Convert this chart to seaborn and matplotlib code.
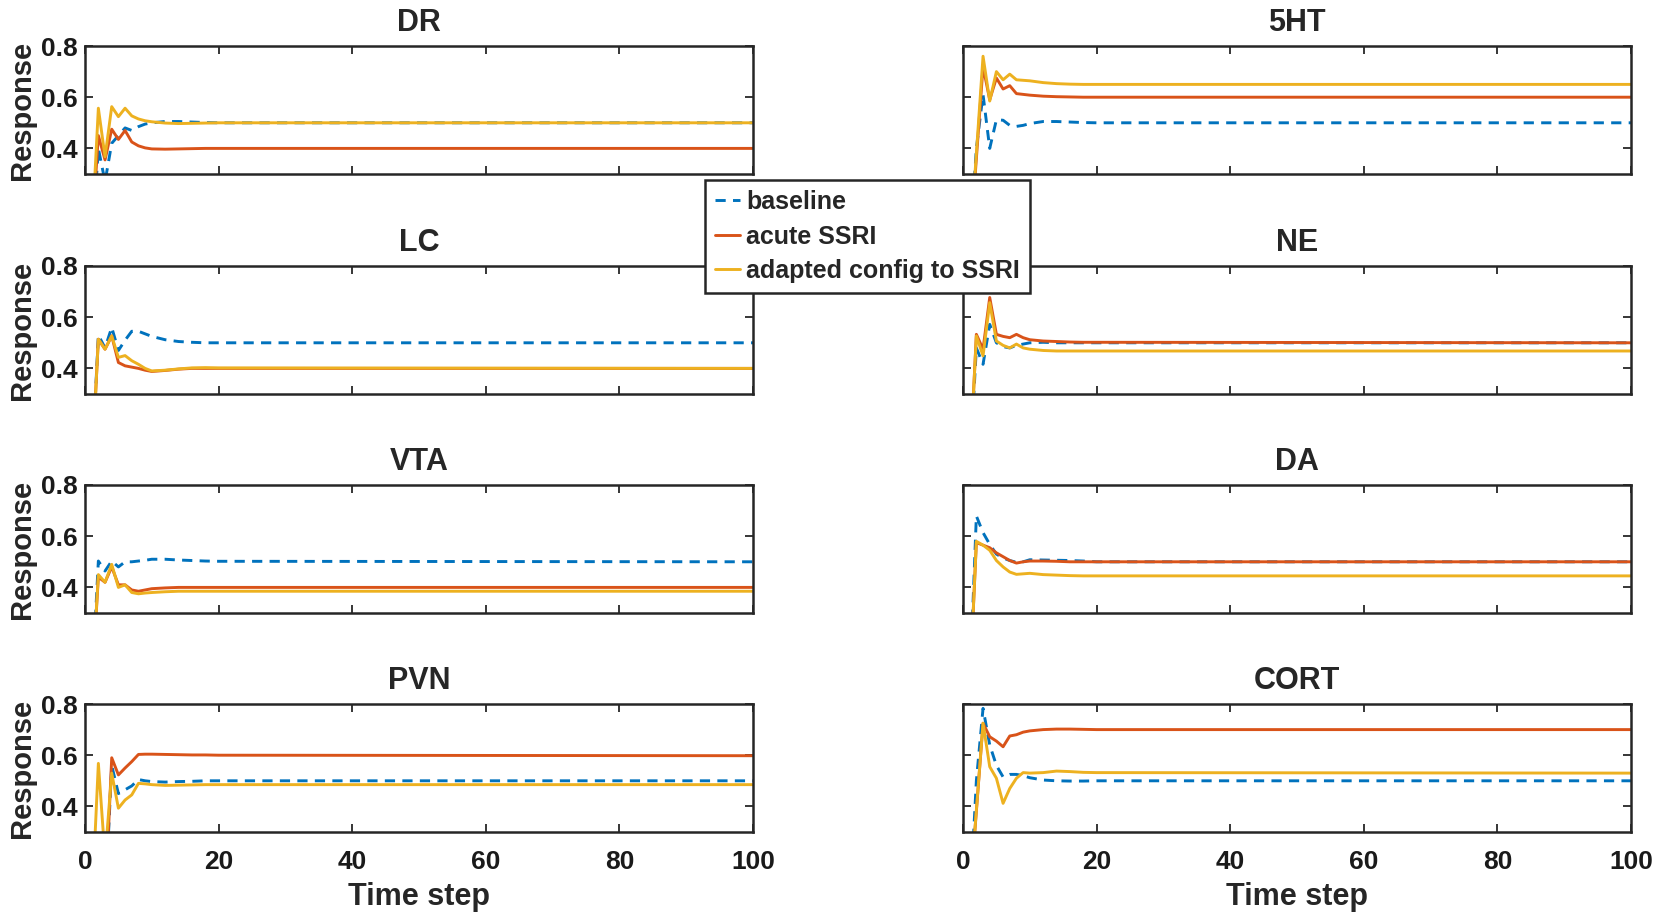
import pandas as pd
import matplotlib
matplotlib.use('Agg')
from matplotlib import pyplot as plt
import seaborn as sns

# time steps (steady after ~20, so the tail is one straight segment)
time_step = [1, 2, 3, 4, 5, 6, 7, 8, 9, 10, 12, 14, 16, 18, 20, 100]

conditions = ['baseline', 'acute SSRI', 'adapted config to SSRI']
panel_names = ['DR', '5HT', 'LC', 'NE', 'VTA', 'DA', 'PVN', 'CORT']

dr_baseline = [0.00, 0.40, 0.27, 0.42, 0.45, 0.48, 0.47, 0.485, 0.495, 0.50, 0.505, 0.505, 0.503, 0.501, 0.50, 0.50]
dr_acute = [0.05, 0.45, 0.355, 0.475, 0.435, 0.47, 0.425, 0.41, 0.402, 0.398, 0.397, 0.398, 0.399, 0.40, 0.40, 0.40]
dr_adapted = [0.05, 0.557, 0.367, 0.563, 0.524, 0.557, 0.527, 0.515, 0.508, 0.504, 0.499, 0.497, 0.498, 0.499, 0.50, 0.50]

ht_baseline = [0.00, 0.40, 0.61, 0.40, 0.512, 0.51, 0.49, 0.486, 0.49, 0.497, 0.505, 0.505, 0.503, 0.501, 0.50, 0.50]
ht_acute = [0.00, 0.36, 0.72, 0.59, 0.675, 0.632, 0.645, 0.614, 0.611, 0.608, 0.604, 0.602, 0.601, 0.60, 0.60, 0.60]
ht_adapted = [0.00, 0.38, 0.76, 0.585, 0.70, 0.668, 0.69, 0.668, 0.666, 0.664, 0.657, 0.653, 0.651, 0.65, 0.65, 0.65]

lc_baseline = [0.00, 0.53, 0.48, 0.56, 0.47, 0.51, 0.545, 0.545, 0.535, 0.525, 0.512, 0.505, 0.502, 0.50, 0.50, 0.50]
lc_acute = [0.00, 0.514, 0.475, 0.527, 0.423, 0.41, 0.405, 0.40, 0.393, 0.388, 0.392, 0.397, 0.40, 0.40, 0.40, 0.40]
lc_adapted = [0.00, 0.514, 0.475, 0.527, 0.443, 0.45, 0.43, 0.416, 0.40, 0.39, 0.393, 0.398, 0.402, 0.403, 0.402, 0.40]

ne_baseline = [0.00, 0.48, 0.416, 0.572, 0.50, 0.485, 0.48, 0.49, 0.495, 0.50, 0.502, 0.50, 0.50, 0.50, 0.50, 0.50]
ne_acute = [0.00, 0.533, 0.475, 0.677, 0.533, 0.525, 0.52, 0.533, 0.52, 0.512, 0.507, 0.505, 0.503, 0.502, 0.502, 0.50]
ne_adapted = [0.00, 0.527, 0.449, 0.657, 0.507, 0.49, 0.48, 0.495, 0.48, 0.475, 0.47, 0.468, 0.468, 0.468, 0.468, 0.468]

vta_baseline = [0.00, 0.503, 0.464, 0.503, 0.48, 0.50, 0.50, 0.503, 0.506, 0.51, 0.51, 0.507, 0.505, 0.503, 0.502, 0.50]
vta_acute = [0.00, 0.44, 0.42, 0.48, 0.41, 0.41, 0.39, 0.385, 0.39, 0.395, 0.398, 0.40, 0.40, 0.40, 0.40, 0.40]
vta_adapted = [0.00, 0.45, 0.42, 0.49, 0.40, 0.41, 0.38, 0.375, 0.378, 0.38, 0.383, 0.385, 0.385, 0.385, 0.385, 0.385]

da_baseline = [0.00, 0.679, 0.614, 0.568, 0.53, 0.515, 0.505, 0.498, 0.50, 0.508, 0.507, 0.506, 0.505, 0.503, 0.50, 0.50]
da_acute = [0.00, 0.575, 0.565, 0.555, 0.535, 0.52, 0.505, 0.495, 0.50, 0.503, 0.503, 0.502, 0.50, 0.50, 0.50, 0.50]
da_adapted = [0.00, 0.58, 0.565, 0.545, 0.505, 0.48, 0.46, 0.451, 0.453, 0.455, 0.45, 0.448, 0.446, 0.445, 0.445, 0.445]

pvn_baseline = [0.00, 0.00, 0.01, 0.56, 0.45, 0.465, 0.48, 0.505, 0.50, 0.497, 0.495, 0.497, 0.498, 0.50, 0.50, 0.50]
pvn_acute = [0.00, 0.00, 0.01, 0.59, 0.523, 0.55, 0.575, 0.603, 0.604, 0.604, 0.603, 0.602, 0.601, 0.601, 0.60, 0.598]
pvn_adapted = [0.00, 0.568, 0.20, 0.53, 0.393, 0.425, 0.445, 0.49, 0.488, 0.485, 0.482, 0.483, 0.484, 0.485, 0.485, 0.485]

cort_baseline = [0.00, 0.50, 0.783, 0.64, 0.56, 0.515, 0.525, 0.525, 0.52, 0.512, 0.503, 0.50, 0.499, 0.499, 0.50, 0.50]
cort_acute = [0.04, 0.38, 0.725, 0.672, 0.655, 0.633, 0.675, 0.68, 0.69, 0.695, 0.70, 0.702, 0.702, 0.701, 0.70, 0.70]
cort_adapted = [0.04, 0.385, 0.725, 0.555, 0.51, 0.412, 0.47, 0.51, 0.532, 0.53, 0.532, 0.538, 0.536, 0.533, 0.532, 0.53]

panel_series = {
    'DR': (dr_baseline, dr_acute, dr_adapted),
    '5HT': (ht_baseline, ht_acute, ht_adapted),
    'LC': (lc_baseline, lc_acute, lc_adapted),
    'NE': (ne_baseline, ne_acute, ne_adapted),
    'VTA': (vta_baseline, vta_acute, vta_adapted),
    'DA': (da_baseline, da_acute, da_adapted),
    'PVN': (pvn_baseline, pvn_acute, pvn_adapted),
    'CORT': (cort_baseline, cort_acute, cort_adapted),
}

palette = {'baseline': '#0072BD', 'acute SSRI': '#D95319', 'adapted config to SSRI': '#EDB120'}
dashes = {'baseline': (3.5, 2.5), 'acute SSRI': '', 'adapted config to SSRI': ''}

sns.set_style('ticks')
plt.rcParams['font.family'] = ['Liberation Sans', 'DejaVu Sans']
plt.rcParams['font.weight'] = 'bold'
plt.rcParams['axes.titleweight'] = 'bold'
plt.rcParams['axes.labelweight'] = 'bold'

fig = plt.figure(figsize=(16.54, 9.14), dpi=100)

W, H = 1654, 914
col_left = [85, 963]
col_width = 668
row_top = [46, 266, 485, 704]
row_height = 128

for i, name in enumerate(panel_names):
    r, c = divmod(i, 2)
    ax = fig.add_axes([col_left[c] / W, 1 - (row_top[r] + row_height) / H,
                       col_width / W, row_height / H])
    frames = []
    for cond, vals in zip(conditions, panel_series[name]):
        frames.append(pd.DataFrame({'t': time_step, 'response': vals, 'condition': cond}))
    df = pd.concat(frames, ignore_index=True)
    sns.lineplot(data=df, x='t', y='response', hue='condition', style='condition',
                 hue_order=conditions, style_order=conditions,
                 palette=palette, dashes=dashes, linewidth=2.1,
                 legend=False, ax=ax)
    ax.set_xlim(0, 100)
    ax.set_ylim(0.3, 0.8)
    ax.set_xticks([0, 20, 40, 60, 80, 100])
    ax.set_yticks([0.4, 0.6, 0.8])
    ax.set_yticklabels(['0.4', '0.6', '0.8'])
    ax.set_title(name, fontsize=22, pad=11)
    ax.tick_params(direction='in', top=True, right=True, length=6, width=1.3,
                   labelsize=19, pad=5, colors='#262626')
    ax.tick_params(axis='x', pad=13)
    ax.tick_params(labelcolor='#1a1a1a')
    for sp in ax.spines.values():
        sp.set_linewidth(1.8)
        sp.set_color('#262626')
        sp.set_visible(True)
    if c == 0:
        ax.set_ylabel('Response', fontsize=21, labelpad=4)
    else:
        ax.set_ylabel('')
        ax.tick_params(labelleft=False)
    if r == 3:
        ax.set_xlabel('Time step', fontsize=22, labelpad=6)
    else:
        ax.set_xlabel('')
        ax.tick_params(labelbottom=False)

# legend shared by all panels
handles = [plt.Line2D([], [], color=palette[cond], linewidth=2.1,
                      linestyle=(0, dashes[cond]) if dashes[cond] else '-')
           for cond in conditions]
leg = fig.legend(handles, conditions, loc='upper left',
                 bbox_to_anchor=(705 / W, 1 - 180 / H), borderaxespad=0,
                 fontsize=18, handlelength=1.0, handletextpad=0.25,
                 labelspacing=0.42, borderpad=0.4, fancybox=False,
                 framealpha=1, edgecolor='#262626')
leg.get_frame().set_linewidth(1.8)

fig.savefig('out.png', dpi=100)
